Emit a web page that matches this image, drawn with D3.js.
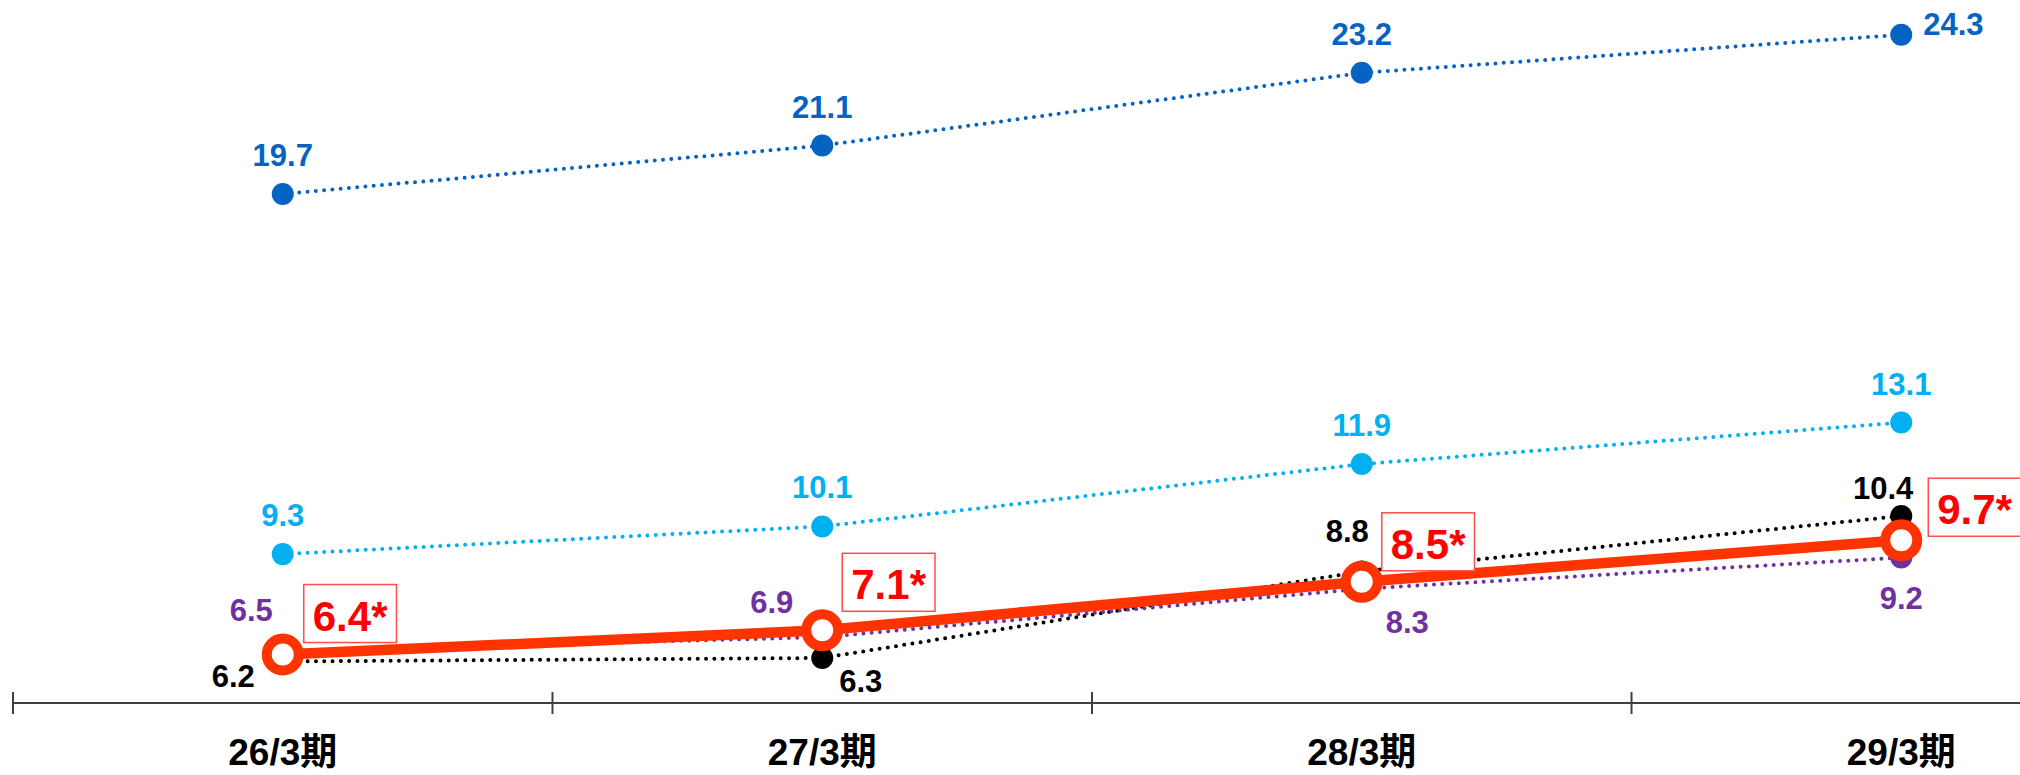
<!DOCTYPE html>
<html>
<head>
<meta charset="utf-8">
<script src="https://cdn.jsdelivr.net/npm/d3@7"></script>
<style>
  html, body { margin: 0; padding: 0; background: #fff; }
  svg { display: block; }
  text { font-family: "Liberation Sans", Arial, "Noto Sans CJK JP", sans-serif; font-weight: bold; }
</style>
</head>
<body>
<svg id="chart" width="2020" height="775"></svg>
<script>
// Fiscal periods on the x axis
const periods = ["26/3期", "27/3期", "28/3期", "29/3期"];

// Series values per period
const seriesDarkBlue  = [19.7, 21.1, 23.2, 24.3];
const seriesLightBlue = [9.3, 10.1, 11.9, 13.1];
const seriesBlack     = [6.2, 6.3, 8.8, 10.4];
const seriesPurple    = [6.5, 6.9, 8.3, 9.2];
const seriesMain      = [6.4, 7.1, 8.5, 9.7];

// Label text for the highlighted series
const mainLabels = ["6.4*", "7.1*", "8.5*", "9.7*"];

const W = 2020, H = 775;
const svg = d3.select("#chart");

const x = d3.scaleBand().domain(periods).range([13, 2171]).paddingInner(0).paddingOuter(0);
const cx = p => x(p) + x.bandwidth() / 2;
const y = d3.scaleLinear().domain([5, 25]).range([703, 10.5]);

// Bottom axis: baseline with ticks on the period boundaries
const axisY = y(5);
const axisG = svg.append("g").attr("class", "axis");
axisG.append("line")
  .attr("x1", x.range()[0]).attr("x2", W)
  .attr("y1", axisY).attr("y2", axisY)
  .attr("stroke", "#404040").attr("stroke-width", 2);
const boundaries = periods.map(p => x(p)).concat([x.range()[1]]);
axisG.selectAll("line.tick").data(boundaries).join("line")
  .attr("class", "tick")
  .attr("x1", d => d).attr("x2", d => d)
  .attr("y1", axisY - 11).attr("y2", axisY + 11)
  .attr("stroke", "#404040").attr("stroke-width", 2);
axisG.selectAll("text.cat").data(periods).join("text")
  .attr("class", "cat")
  .attr("x", d => cx(d)).attr("y", 765)
  .attr("text-anchor", "middle")
  .attr("font-size", 37)
  .attr("fill", "#000")
  .text(d => d);

// Dotted comparison series, each with its own label placement per point
const dotted = [
  { values: seriesDarkBlue, color: "#0563C1",
    place: [[0, -28, "middle"], [0, -28, "middle"], [0, -28, "middle"], [22, 0, "start"]] },
  { values: seriesLightBlue, color: "#00B0F0",
    place: [[0, -28, "middle"], [0, -28, "middle"], [0, -28, "middle"], [0, -28, "middle"]] },
  { values: seriesBlack, color: "#000000",
    place: [[-28, 26, "end"], [17, 34, "start"], [7, -29, "end"], [12, -17, "end"]] },
  { values: seriesPurple, color: "#7030A0",
    place: [[-10, -30, "end"], [-29, -24, "end"], [24, 44, "start"], [0, 51, "middle"]] }
];

const line = d3.line().x((d, i) => cx(periods[i])).y(d => y(d));

dotted.forEach(s => {
  const g = svg.append("g");
  g.append("path")
    .datum(s.values)
    .attr("d", line)
    .attr("fill", "none")
    .attr("stroke", s.color)
    .attr("stroke-width", 4)
    .attr("stroke-linecap", "round")
    .attr("stroke-dasharray", "0 8.3");
  g.selectAll("circle").data(s.values).join("circle")
    .attr("cx", (d, i) => cx(periods[i]))
    .attr("cy", d => y(d))
    .attr("r", 11)
    .attr("fill", s.color);
  g.selectAll("text").data(s.values).join("text")
    .attr("x", (d, i) => cx(periods[i]) + s.place[i][0])
    .attr("y", (d, i) => y(d) + s.place[i][1])
    .attr("text-anchor", (d, i) => s.place[i][2])
    .attr("font-size", 31)
    .attr("fill", s.color)
    .text(d => d.toFixed(1));
});

// Highlighted series: thick line with hollow markers
const mainColor = "#FF3300";
const mg = svg.append("g");
mg.append("path")
  .datum(seriesMain)
  .attr("d", line)
  .attr("fill", "none")
  .attr("stroke", mainColor)
  .attr("stroke-width", 10.5)
  .attr("stroke-linejoin", "round");
mg.selectAll("circle").data(seriesMain).join("circle")
  .attr("cx", (d, i) => cx(periods[i]))
  .attr("cy", d => y(d))
  .attr("r", 16)
  .attr("fill", "#fff")
  .attr("stroke", mainColor)
  .attr("stroke-width", 10);

// Boxed value labels (box left / bottom offsets from the point)
const boxPlace = [[21, -12], [20, -19], [20, -11], [27, -4]];
const padX = 9, boxH = 58;
mainLabels.forEach((lbl, i) => {
  const px = cx(periods[i]), py = y(seriesMain[i]);
  const left = px + boxPlace[i][0];
  const bottom = py + boxPlace[i][1];
  const lg = svg.append("g");
  const rect = lg.append("rect");
  const t = lg.append("text")
    .attr("x", left + padX)
    .attr("y", bottom - 12)
    .attr("font-size", 42)
    .attr("fill", "#FF0000")
    .text(lbl);
  const w = t.node().getComputedTextLength() + padX * 2;
  rect.attr("x", left).attr("y", bottom - boxH)
    .attr("width", w).attr("height", boxH)
    .attr("fill", "#fff")
    .attr("stroke", "#FF4D4D")
    .attr("stroke-width", 1.5);
});
</script>
</body>
</html>
